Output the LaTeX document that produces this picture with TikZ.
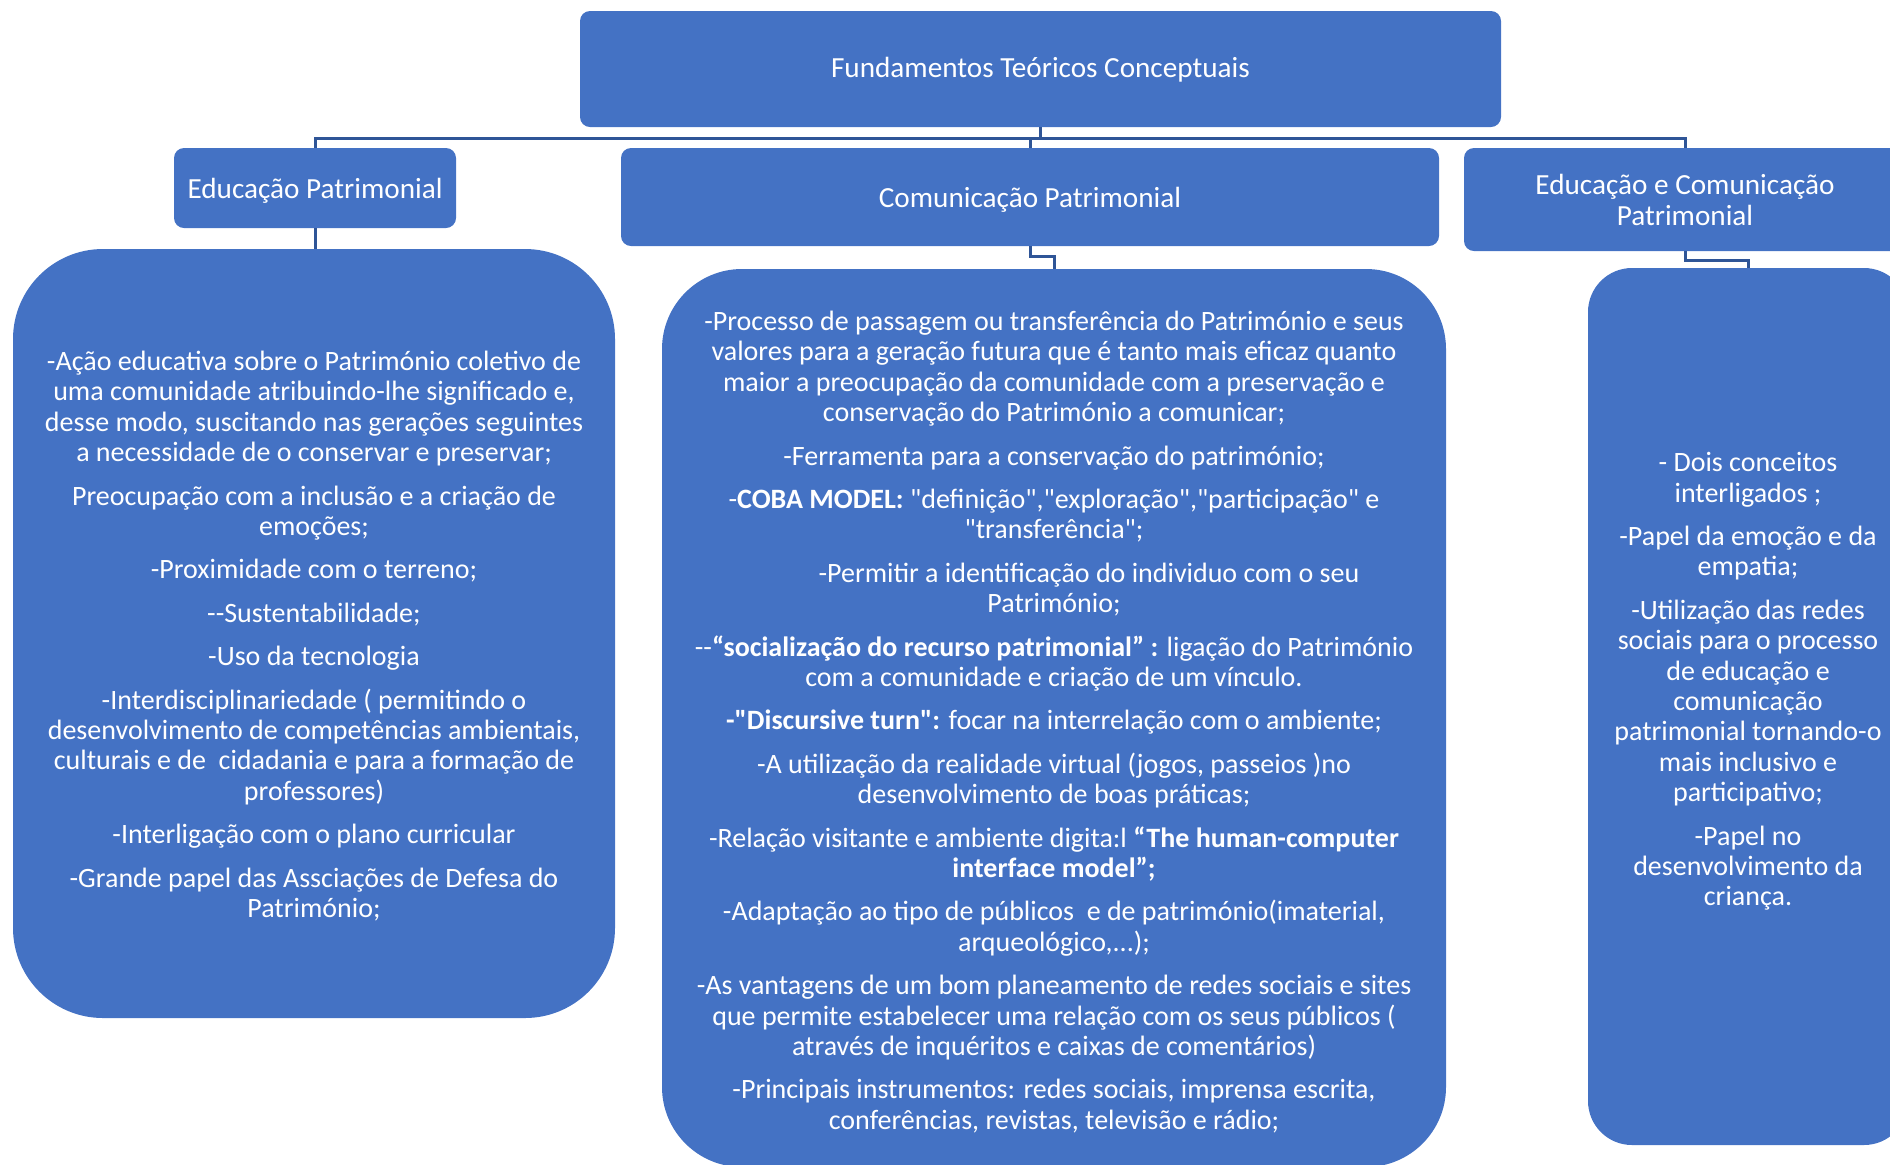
\documentclass[tikz,border=0pt]{standalone}
\usepackage{fontspec}
\setmainfont{Carlito}[Ligatures=TeXOff]
\definecolor{boxblue}{HTML}{4472C4}
\definecolor{linkblue}{HTML}{2F5597}
\begin{document}
\begin{tikzpicture}[x=0.5pt,y=-0.5pt,
  box/.style={fill=boxblue, draw=none, text=white, inner sep=0pt, align=center},
  hdr/.style={box, font=\fontsize{14.6}{15.8}\selectfont, rounded corners=5pt},
  hdrtxt/.style={text=white, align=center, inner sep=0pt, font=\fontsize{14.6}{15.8}\selectfont},
  bodytxt/.style={text=white, align=center, inner sep=0pt, font=\fontsize{14}{15.2}\selectfont},
  link/.style={draw=linkblue, line width=1.5pt}]
\useasboundingbox (0,0) rectangle (1890,1164);
\clip (0,0) rectangle (1890,1164);

% level 0
\node[hdr, minimum width=460.5pt, minimum height=58pt] (top) at (1040.5,69) {};
\node[hdrtxt] (topt) at (1040.5,70) {Fundamentos Teóricos Conceptuais};

% level 1
\node[hdr, minimum width=141pt, minimum height=40pt] (edu) at (315,188) {};
\node[hdrtxt] (edut) at (315,190.5) {Educação Patrimonial};
\node[hdr, minimum width=409pt, minimum height=49pt] (com) at (1030,197) {};
\node[hdrtxt] (comt) at (1030,199.5) {Comunicação Patrimonial};
\node[hdr, minimum width=221pt, minimum height=51.5pt] (ecp) at (1685,199.5) {};
\node[hdrtxt] (ecpt) at (1685,200) {Educação e Comunicação\\Patrimonial};

% level 2
\node[box, minimum width=301pt, minimum height=384.5pt, rounded corners=45pt] (lbox) at (314,633.5) {};
\node[bodytxt] (ltxt) at (314,636) {%
-Ação educativa sobre o Património coletivo de\\
uma comunidade atribuindo-lhe significado e,\\
desse modo, suscitando nas gerações seguintes\\
a necessidade de o conservar e preservar;\\[6.5pt]
Preocupação com a inclusão e a criação de\\
emoções;\\[6.5pt]
-Proximidade com o terreno;\\[6.5pt]
--Sustentabilidade;\\[6.5pt]
-Uso da tecnologia\\[6.5pt]
-Interdisciplinariedade ( permitindo o\\
desenvolvimento de competências ambientais,\\
culturais e de\ \ cidadania e para a formação de\\
professores)\\[6.5pt]
-Interligação com o plano curricular\\[6.5pt]
-Grande papel das Assciações de Defesa do\\
Património;};

\node[box, minimum width=392pt, minimum height=449pt, rounded corners=40pt] (mbox) at (1054,718) {};
\node[bodytxt] (mtxt) at (1054,722) {%
-Processo de passagem ou transferência do Património e seus\\
valores para a geração futura que é tanto mais eficaz quanto\\
maior a preocupação da comunidade com a preservação e\\
conservação do Património a comunicar;\\[6.5pt]
-Ferramenta para a conservação do património;\\[6.5pt]
-\textbf{COBA MODEL:} "definição","exploração","participação" e\\
"transferência";\\[6.5pt]
\hspace*{35pt}-Permitir a identificação do individuo com o seu\\
Património;\\[6.5pt]
--\textbf{“socialização do recurso patrimonial” :} ligação do Património\\
com a comunidade e criação de um vínculo.\\[6.5pt]
\textbf{-"Discursive turn":} focar na interrelação com o ambiente;\\[6.5pt]
-A utilização da realidade virtual (jogos, passeios )no\\
desenvolvimento de boas práticas;\\[6.5pt]
-Relação visitante e ambiente digita:l \textbf{“The human-computer}\\
\textbf{interface model”;}\\[6.5pt]
-Adaptação ao tipo de públicos\ \ e de património(imaterial,\\
arqueológico,...);\\[6.5pt]
-As vantagens de um bom planeamento de redes sociais e sites\\
que permite estabelecer uma relação com os seus públicos (\\
através de inquéritos e caixas de comentários)\\[6.5pt]
-Principais instrumentos: redes sociais, imprensa escrita,\\
conferências, revistas, televisão e rádio;};

\node[box, minimum width=160pt, minimum height=438.5pt, rounded corners=22pt] (rbox) at (1748,706.5) {};
\node[bodytxt] (rtxt) at (1748,681.5) {%
- Dois conceitos\\
interligados ;\\[6.5pt]
-Papel da emoção e da\\
empatia;\\[6.5pt]
-Utilização das redes\\
sociais para o processo\\
de educação e\\
comunicação\\
patrimonial tornando-o\\
mais inclusivo e\\
participativo;\\[6.5pt]
-Papel no\\
desenvolvimento da\\
criança.};

% connectors
\draw[link] (top.south) -- ++(0,11) -| (edu.north);
\draw[link] (top.south) -- ++(0,11) -| (com.north);
\draw[link] (top.south) -- ++(0,11) -| (ecp.north);
\draw[link] (edu.south) -- (edu.south |- lbox.north);
\draw[link] (com.south) -- ++(0,10) -| (mbox.north);
\draw[link] (ecp.south) -- ++(0,9) -| (rbox.north);
\end{tikzpicture}
\end{document}
